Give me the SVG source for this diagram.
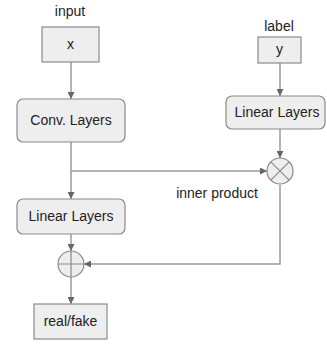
<svg xmlns="http://www.w3.org/2000/svg" width="327" height="344" viewBox="0 0 327 344">
<style>
.box{fill:#eeeeee;stroke:#8a8a8a;stroke-width:1.2}
.t{font-family:"Liberation Sans",Arial,sans-serif;font-size:14px;fill:#222;text-anchor:middle}
.c{fill:none;stroke:#9a9a9a;stroke-width:1.5}
.op{fill:#eeeeee;stroke:#8a8a8a;stroke-width:1.2}
.opl{stroke:#8a8a8a;stroke-width:1.2}
</style>
<defs>
<marker id="a" viewBox="0 0 10 10" refX="10" refY="5" markerWidth="7" markerHeight="7" markerUnits="userSpaceOnUse" orient="auto">
<path d="M0,0 L10,5 L0,10 z" fill="#666"/>
</marker>
</defs>
<rect width="327" height="344" fill="#fff"/>
<g id="connectors">
<path class="c" d="M71,62 V99" marker-end="url(#a)"/>
<path class="c" d="M280,63 V96" marker-end="url(#a)"/>
<path class="c" d="M280,129 V158" marker-end="url(#a)"/>
<path class="c" d="M71,142 V199" marker-end="url(#a)"/>
<path class="c" d="M71,171 H267" marker-end="url(#a)"/>
<path class="c" d="M71,234 V251" marker-end="url(#a)"/>
<path class="c" d="M280,185 V264 H84" marker-end="url(#a)"/>
<path class="c" d="M71,277 V304" marker-end="url(#a)"/>
</g>
<g id="input-label"><text class="t" x="70" y="16">input</text></g>
<g id="x"><rect class="box" x="42" y="27" width="57" height="35"/><text class="t" x="70.5" y="49">x</text></g>
<g id="label-label"><text class="t" x="279" y="31">label</text></g>
<g id="y"><rect class="box" x="258" y="37" width="43" height="26"/><text class="t" x="279.5" y="54">y</text></g>
<g id="conv"><rect class="box" x="17" y="99" width="108" height="43" rx="6"/><text class="t" x="71" y="125">Conv. Layers</text></g>
<g id="linear-right"><rect class="box" x="226" y="96" width="99" height="33" rx="6"/><text class="t" x="277" y="117">Linear Layers</text></g>
<g id="inner"><circle class="op" cx="280" cy="171" r="13"/><path class="opl" d="M270.8,161.8 L289.2,180.2 M289.2,161.8 L270.8,180.2"/></g>
<g id="inner-label"><text class="t" x="217" y="198">inner product</text></g>
<g id="linear-left"><rect class="box" x="17" y="199" width="108" height="35" rx="6"/><text class="t" x="71" y="221">Linear Layers</text></g>
<g id="plus"><circle class="op" cx="71" cy="264" r="13"/><path class="opl" d="M58,264 H84 M71,251 V277"/></g>
<g id="realfake"><rect class="box" x="34" y="304" width="73" height="35"/><text class="t" x="70.5" y="326">real/fake</text></g>
</svg>
